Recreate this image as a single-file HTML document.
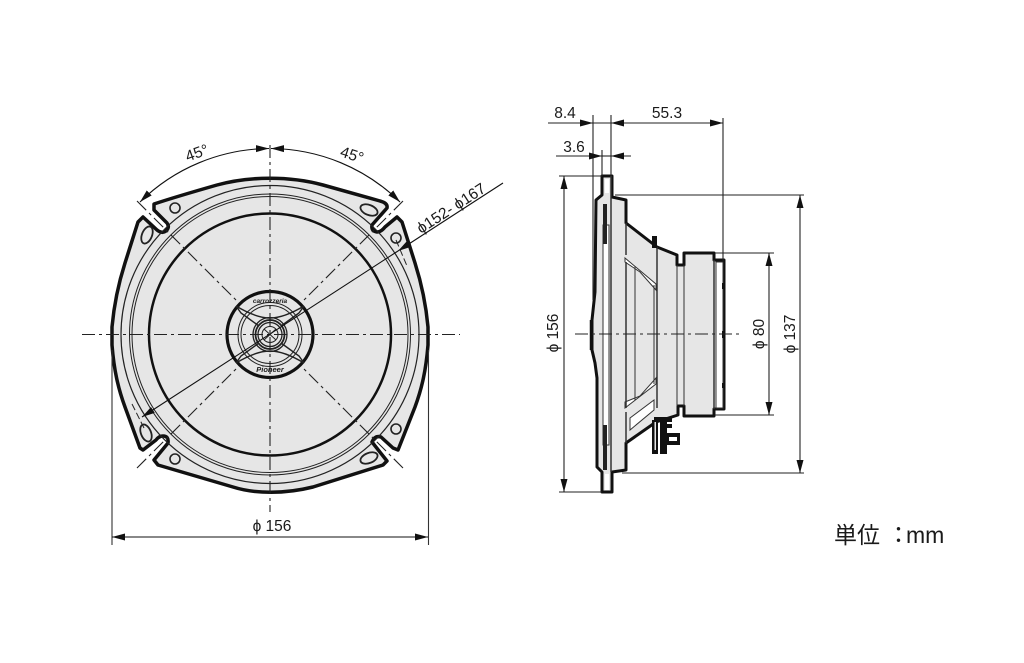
<!DOCTYPE html>
<html><head><meta charset="utf-8"><style>
html,body{margin:0;padding:0;background:#fff;width:1024px;height:663px;overflow:hidden}
svg{display:block}
text{font-family:"Liberation Sans","Noto Sans CJK JP",sans-serif;fill:#1a1a1a;font-size:15.5px}
</style></head><body>
<svg width="1024" height="663" viewBox="0 0 1024 663" xmlns="http://www.w3.org/2000/svg">
<defs>
<marker id="a" markerWidth="14" markerHeight="8" refX="13" refY="4" orient="auto-start-reverse" markerUnits="userSpaceOnUse"><path d="M0 0.500L13 4L0 7.500Z" fill="#111"/></marker>
</defs>
<!-- front view -->
<path d="M154 204 C175 197 196 191 217 185 C250 176 290 176 323 185 C345 191 362 196 380 201 Q388 203 387 208 L372 225 Q371 231 377 232 Q381 232 385 227 L397 217 L402 222 L415 263 C422 285 426 305 428 327 L428 345 C426 370 422 388 415 407 L398 450 L393 448 L381 437 Q375 435 372 442 L387 461 L383 465 L313 487 C285 494 255 494 233 487 L158 465 L154 460 L168 443 Q169 436 163 436 Q159 436 156 440 L143 450 L140 448 L125 407 C118 388 114 370 112 345 L112 327 C114 305 118 285 125 263 L138 222 L143 217 L157 230 Q162 234 166 231 Q170 227 167 223 L154 210 Z" fill="#e6e6e6" stroke="#111" stroke-width="3.500" stroke-linejoin="round"/>
<g fill="none" stroke="#222">
<circle cx="270" cy="334.500" r="149" stroke-width="1.200"/>
<circle cx="270" cy="334.500" r="140.500" stroke-width="1"/>
<circle cx="270" cy="334.500" r="138" stroke-width="1"/>
<circle cx="270" cy="334.500" r="121" stroke="#111" stroke-width="2.500"/>
<circle cx="175" cy="208" r="5" stroke-width="1.600" fill="#e6e6e6"/>
<circle cx="396" cy="238" r="5" stroke-width="1.600" fill="#e6e6e6"/>
<circle cx="175" cy="459" r="5" stroke-width="1.600" fill="#e6e6e6"/>
<circle cx="396" cy="429" r="5" stroke-width="1.600" fill="#e6e6e6"/>
<ellipse cx="369" cy="210" rx="9" ry="5" transform="rotate(22 369 210)" fill="#e6e6e6" stroke-width="1.800"/>
<ellipse cx="369" cy="458" rx="9" ry="5" transform="rotate(-22 369 458)" fill="#e6e6e6" stroke-width="1.800"/>
<ellipse cx="147" cy="235" rx="9" ry="5" transform="rotate(-68 147 235)" fill="#e6e6e6" stroke-width="1.800"/>
<ellipse cx="146" cy="433" rx="9" ry="5" transform="rotate(68 146 433)" fill="#e6e6e6" stroke-width="1.800"/>
<!-- hub -->
<circle cx="270" cy="334.500" r="43" stroke="#111" stroke-width="3.200"/>
<circle cx="270" cy="334.500" r="32" stroke-width="1"/>
<circle cx="270" cy="334.500" r="29" stroke-width="1"/>
<circle cx="270" cy="334.500" r="17" stroke-width="1.300"/>
<circle cx="270" cy="334.500" r="14.500" stroke-width="1.800"/>
<circle cx="270" cy="334.500" r="12" stroke-width="1.300"/>
<circle cx="270" cy="334.500" r="8" stroke-width="1"/>
<path d="M236 306 Q256 318 270 318 Q284 318 304 306 L299 313 L281 326 M236 306 L241 313 L259 326" stroke-width="1.400"/>
<path d="M236 363 Q256 351 270 351 Q284 351 304 363 L299 356 L281 343 M236 363 L241 356 L259 343" stroke-width="1.400"/>
<path d="M264 329L276 340M276 329L264 340" stroke-width="1"/>
</g>
<text x="270" y="303" text-anchor="middle" style="font-size:6.500px;font-weight:bold;font-style:italic">carrozzeria</text>
<text x="270" y="372" text-anchor="middle" style="font-size:7.500px;font-weight:bold;font-style:italic">Pioneer</text>
<!-- axes -->
<g fill="none" stroke="#222" stroke-width="1.100" stroke-dasharray="13 4 3 4">
<path d="M82 334.500H460"/>
<path d="M270 145V512"/>
<path d="M137 201L238 302"/>
<path d="M403 201L302 302"/>
<path d="M137 468L238 367"/>
<path d="M403 468L302 367"/>
</g>
<g fill="none" stroke="#222" stroke-width="1" stroke-dasharray="7 3">
<path d="M396 240 L407 266"/>
<path d="M144 428 L132 404"/>
</g>
<!-- dims front -->
<g fill="none" stroke="#111" stroke-width="1.100">
<path d="M140 202 A186 186 0 0 1 269 148.500" marker-start="url(#a)" marker-end="url(#a)"/>
<path d="M400 202 A186 186 0 0 0 271 148.500" marker-start="url(#a)" marker-end="url(#a)"/>
<path d="M503 183L398 251" marker-end="url(#a)"/>
<path d="M398 251L142 417" marker-end="url(#a)"/>
<path d="M112 350V545M428.500 350V545" stroke="#333"/>
<path d="M112 537H428" marker-start="url(#a)" marker-end="url(#a)"/>
</g>
<text x="197" y="158" text-anchor="middle" transform="rotate(-20 197 153)">45°</text>
<text x="352" y="160" text-anchor="middle" transform="rotate(18 352 155)">45°</text>
<text x="272" y="531" text-anchor="middle">ϕ 156</text>
<text transform="translate(421 234) rotate(-33)">ϕ152- ϕ167</text>

<!-- side view -->
<path d="M602 176H612V197L626 200V223L657 247L677 255V265H684V253H714V260H724V409H714V416H684V406H678V415L656 422L626 443V470L612 472V492H602V472L597 467V378L595 363L592 350V320L595 292L596 200L602 195Z" fill="#e6e6e6" stroke="#111" stroke-width="3" stroke-linejoin="round"/>
<g fill="#fff" stroke="#333" stroke-width="1">
<path d="M603 225H609V445H603Z"/>
<path d="M605 179H609V193H605Z" stroke="none"/>
<path d="M605 474H609V490H605Z" stroke="none"/>
<path d="M716 262H723V408H716Z"/>
<path d="M625 258L656 284V290L640 272L625 262Z"/>
<path d="M625 408L656 384V378L640 396L625 402Z"/>
<path d="M630 418L654 400V410L630 430Z"/>
</g>
<g fill="none" stroke="#333" stroke-width="1">
<path d="M626 223V255M626 262V408M626 412V443" stroke-width="1.500"/>
<path d="M635 266V400"/>
<path d="M657 247V408" stroke-width="1.500"/>
<path d="M654 285V384"/>
<path d="M677 265V406"/>
<path d="M684 265V406"/>
<path d="M714 260V409" stroke-width="1.500"/>
<path d="M611 176V472" stroke-width="1.500"/>
</g>
<path d="M603 204h4v40h-4zM603 425h4v45h-4z" fill="#222"/>
<!-- speaker terminals -->
<path d="M652 236h5v12h-5zM652 420h6v34h-6zM660 420h7v34h-7zM664 433h16v12h-16zM654 417h18v5h-18zM660 424h12v4h-12z" fill="#111"/>
<rect x="669" y="437" width="8" height="4" fill="#fff"/>
<rect x="654.500" y="422" width="1.500" height="28" fill="#e6e6e6"/>
<path d="M722 283h3v6h-3zM722 331h3v7h-3zM722 383h3v5h-3z" fill="#111"/>
<path d="M591 320V350" stroke="#111" stroke-width="2.500"/>
<!-- side dims -->
<g fill="none" stroke="#222" stroke-width="1.100">
<path d="M593 115V300M611 115V176M723 118V262M602 150V176"/>
<path d="M548 123H593" marker-end="url(#a)"/>
<path d="M593 123H611"/>
<path d="M611 123H723" marker-start="url(#a)" marker-end="url(#a)"/>
<path d="M556 156H602" marker-end="url(#a)"/>
<path d="M602 156H611"/>
<path d="M631 156H611" marker-end="url(#a)"/>
<path d="M559 176H602M559 492H602"/>
<path d="M615 195H804M622 473H804M715 253H774M715 415H774"/>
<path d="M564 176V492" marker-start="url(#a)" marker-end="url(#a)"/>
<path d="M769 253V415" marker-start="url(#a)" marker-end="url(#a)"/>
<path d="M800 195V473" marker-start="url(#a)" marker-end="url(#a)"/>
<path d="M575 334H740" stroke-dasharray="13 4 3 4"/>
</g>
<text x="565" y="118" text-anchor="middle">8.4</text>
<text x="667" y="118" text-anchor="middle">55.3</text>
<text x="574" y="152" text-anchor="middle">3.6</text>
<text transform="translate(558 333) rotate(-90)" text-anchor="middle">ϕ 156</text>
<text transform="translate(764 334) rotate(-90)" text-anchor="middle">ϕ 80</text>
<text transform="translate(795 334) rotate(-90)" text-anchor="middle">ϕ 137</text>
<text x="834" y="543" style="font-size:23px">単位</text>
<text x="887" y="543" style="font-size:23px">：</text>
<text x="906" y="543" style="font-size:23px">mm</text>
</svg>
</body></html>
